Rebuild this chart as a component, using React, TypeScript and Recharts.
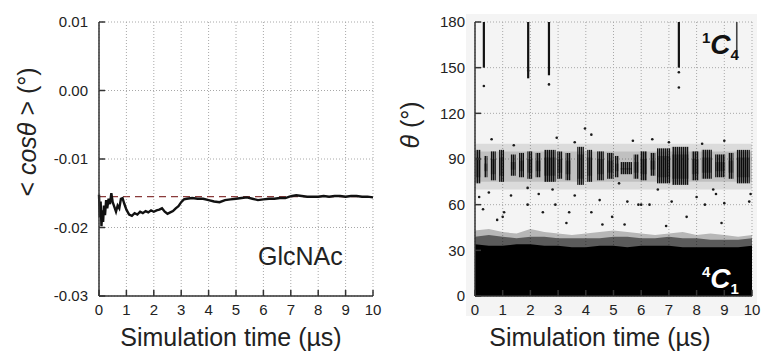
import React from 'react';
import {
  ComposedChart,
  Line,
  Area,
  Scatter,
  XAxis,
  YAxis,
  CartesianGrid,
  ReferenceLine,
  ReferenceArea,
} from 'recharts';

const FONT = '"Liberation Sans", Arial, sans-serif';
const AXIS = '#333';
const GRID = '#a8a8a8';

// shared x ticks (µs)
const timeTicks = [0, 1, 2, 3, 4, 5, 6, 7, 8, 9, 10];

// left panel: running average of cos(theta)
const cosTicks = [-0.03, -0.02, -0.01, 0, 0.01];
const cosTickLabels = ['-0.03', '-0.02', '-0.01', '0.00', '0.01'];
const cosLimit = -0.0155;
const cosSeries = [
  [0, -0.0152], [0.03, -0.0185], [0.06, -0.0162], [0.09, -0.0198], [0.12, -0.0175],
  [0.15, -0.0192], [0.18, -0.0168], [0.22, -0.0182], [0.26, -0.016], [0.3, -0.0172],
  [0.35, -0.0158], [0.4, -0.0166], [0.45, -0.015], [0.5, -0.0163], [0.56, -0.017],
  [0.62, -0.0177], [0.68, -0.0168], [0.74, -0.0172], [0.8, -0.0158], [0.86, -0.0157],
  [0.92, -0.0165], [1.0, -0.0174], [1.1, -0.0181], [1.2, -0.0183], [1.3, -0.0179],
  [1.4, -0.0181], [1.5, -0.0177], [1.6, -0.0179], [1.7, -0.0176], [1.8, -0.0178],
  [1.9, -0.0175], [2.0, -0.0177], [2.1, -0.0175], [2.2, -0.0174], [2.3, -0.0172],
  [2.4, -0.0177], [2.5, -0.018], [2.6, -0.0178], [2.7, -0.0176], [2.8, -0.0172],
  [2.9, -0.0169], [3.0, -0.0163], [3.1, -0.0159], [3.2, -0.0158], [3.4, -0.0157],
  [3.6, -0.0158], [3.8, -0.0158], [4.0, -0.016], [4.2, -0.0162], [4.4, -0.0163],
  [4.6, -0.016], [4.8, -0.0159], [5.0, -0.0158], [5.2, -0.0157], [5.4, -0.0156],
  [5.6, -0.0158], [5.8, -0.016], [6.0, -0.0159], [6.2, -0.0158], [6.4, -0.0158],
  [6.6, -0.0157], [6.8, -0.0157], [6.95, -0.0155], [7.05, -0.0154], [7.2, -0.0153],
  [7.4, -0.0154], [7.6, -0.0155], [7.8, -0.0155], [8.0, -0.0155], [8.2, -0.0154],
  [8.4, -0.0155], [8.6, -0.0154], [8.8, -0.0154], [9.0, -0.0155], [9.2, -0.0154],
  [9.4, -0.0154], [9.6, -0.0155], [9.8, -0.0155], [10, -0.0156],
];

// right panel: ring puckering angle theta
const thetaTicks = [0, 30, 60, 90, 120, 150, 180];
// lower 4C1 population: [t, solid top, dense fringe top, sparse fringe top]
const chairBand = [
  [0, 34, 39, 43], [0.5, 33, 40, 44], [1, 33, 39, 42], [1.5, 34, 38, 41],
  [2, 34, 39, 44], [2.5, 33, 39, 42], [3, 33, 38, 41], [3.5, 32, 38, 40],
  [4, 32, 38, 41], [4.5, 33, 38, 42], [5, 33, 39, 43], [5.5, 32, 39, 42],
  [6, 33, 38, 41], [6.5, 33, 38, 40], [7, 33, 39, 41], [7.5, 32, 38, 42],
  [8, 32, 38, 40], [8.5, 32, 37, 41], [9, 32, 37, 40], [9.5, 32, 37, 39],
  [10, 33, 38, 40],
];
// streaks of the ~90° population: [t start, t end, low, high]
const boatStreaks = [
  [0.02, 0.2, 74, 96], [0.33, 0.45, 78, 92], [0.57, 0.75, 76, 95], [0.87, 1.05, 75, 96],
  [1.29, 1.47, 79, 93], [1.59, 1.77, 78, 94], [1.89, 2.07, 77, 95], [2.19, 2.37, 78, 94],
  [2.49, 2.91, 75, 96], [2.97, 3.15, 77, 95], [3.27, 3.45, 76, 94], [3.69, 3.93, 73, 98],
  [4.05, 4.23, 75, 96], [4.41, 4.65, 76, 95], [4.77, 5.0, 77, 94], [5.05, 5.19, 78, 92],
  [5.25, 5.67, 80, 88], [5.73, 5.91, 77, 93], [5.97, 6.21, 76, 95], [6.33, 6.51, 79, 94],
  [6.57, 7.05, 74, 97], [7.11, 7.71, 73, 98], [7.83, 8.07, 76, 95], [8.19, 8.55, 77, 96],
  [8.67, 9.03, 78, 93], [9.15, 9.33, 77, 94], [9.45, 9.92, 74, 96],
];
// excursions to 1C4: [t, lowest theta]
const invertedSpikes = [
  [0.32, 150], [1.92, 143], [2.67, 145], [7.36, 150], [9.45, 156],
];
// isolated frames
const strayPoints = [
  [0.32, 138], [2.67, 139], [7.36, 137], [7.36, 147], [1.92, 148],
  [0.6, 103], [2.95, 104], [3.97, 110], [4.2, 106], [5.7, 102], [6.4, 103], [9.0, 102],
  [3.6, 101], [8.2, 100], [7.0, 101], [1.4, 99],
  [0.29, 57], [1.0, 52], [1.05, 55], [1.9, 60], [2.45, 55], [3.4, 55], [4.2, 55],
  [4.95, 52], [6.0, 60], [7.64, 52], [0.15, 65], [0.5, 68], [1.3, 66], [2.3, 67],
  [2.9, 60], [3.6, 66], [4.5, 63], [5.5, 62], [5.9, 60], [6.3, 60], [7.1, 62],
  [8.0, 65], [8.3, 60], [8.7, 67], [9.0, 61], [9.9, 62], [9.95, 67], [1.9, 71],
  [2.8, 70], [5.2, 74], [6.6, 70], [8.6, 70], [3.3, 48], [5.4, 47], [6.9, 46],
  [8.9, 48], [0.8, 50], [4.6, 47],
];

const cosData = cosSeries.map(([t, v]) => ({ t, v }));
const bandData = chairBand.map(([t, solid, dense, sparse]) => ({ t, solid, dense, sparse }));
const strayData = strayPoints.map(([t, th]) => ({ t, th }));

const tickStyle = { fontSize: 15, fill: '#222', fontFamily: FONT };

const Dot = (props: any) => <circle cx={props.cx} cy={props.cy} r={1.3} fill="#1a1a1a" />;

function CosPanel() {
  return (
    <ComposedChart width={384} height={356} data={cosData} margin={{ top: 22, right: 11, bottom: 0, left: 0 }}>
      <CartesianGrid stroke={GRID} strokeDasharray="1 2" />
      <XAxis
        dataKey="t"
        type="number"
        domain={[0, 10]}
        ticks={timeTicks}
        height={60}
        tick={tickStyle}
        tickSize={-6}
        tickMargin={14}
        stroke={AXIS}
        strokeWidth={1.5}
        interval={0}
      />
      <XAxis xAxisId="top" orientation="top" type="number" domain={[0, 10]} ticks={timeTicks}
        height={0} tickSize={-5} tickFormatter={() => ''} stroke={AXIS} strokeWidth={1.5} />
      <YAxis
        type="number"
        domain={[-0.03, 0.01]}
        ticks={cosTicks}
        width={99}
        tick={tickStyle}
        tickFormatter={(v) => cosTickLabels[cosTicks.indexOf(v)] ?? ''}
        tickSize={-6}
        tickMargin={17}
        stroke={AXIS}
        strokeWidth={1.5}
        interval={0}
      />
      <YAxis yAxisId="right" orientation="right" type="number" domain={[-0.03, 0.01]} ticks={cosTicks}
        width={0} tickSize={-5} tickFormatter={() => ''} stroke={AXIS} strokeWidth={1.5} />
      <ReferenceLine y={cosLimit} stroke="#8a3b3b" strokeDasharray="7 5" strokeWidth={1.3} />
      <Line type="linear" dataKey="v" stroke="#111" strokeWidth={2.4} dot={false} isAnimationActive={false} />
    </ComposedChart>
  );
}

function ThetaPanel() {
  return (
    <ComposedChart width={384} height={356} margin={{ top: 22, right: 17, bottom: 0, left: 0 }}>
      <defs>
        <pattern id="streaks" width={2} height={3} patternUnits="userSpaceOnUse">
          <rect x={0} y={0} width={2} height={3} fill="#000" fillOpacity={0.4} />
          <rect x={0} y={0} width={1.1} height={3} fill="#000" fillOpacity={0.85} />
        </pattern>
      </defs>
      <CartesianGrid stroke={GRID} strokeDasharray="1 2" />
      <XAxis
        dataKey="t"
        type="number"
        domain={[0, 10]}
        ticks={timeTicks}
        height={60}
        tick={tickStyle}
        tickSize={-6}
        tickMargin={14}
        stroke={AXIS}
        strokeWidth={1.5}
        interval={0}
        allowDataOverflow
      />
      <XAxis xAxisId="top" orientation="top" type="number" domain={[0, 10]} ticks={timeTicks}
        height={0} tickSize={-5} tickFormatter={() => ''} stroke={AXIS} strokeWidth={1.5} />
      <YAxis
        type="number"
        domain={[0, 180]}
        ticks={thetaTicks}
        width={90}
        tick={tickStyle}
        tickSize={-6}
        tickMargin={16}
        stroke={AXIS}
        strokeWidth={1.5}
        interval={0}
        allowDataOverflow
      />
      <YAxis yAxisId="right" orientation="right" type="number" domain={[0, 180]} ticks={thetaTicks}
        width={0} tickSize={-5} tickFormatter={() => ''} stroke={AXIS} strokeWidth={1.5} />
      <ReferenceArea x1={0} x2={10} y1={70} y2={100} fill="#000" fillOpacity={0.1} stroke="none" />
      <ReferenceArea x1={0} x2={10} y1={75} y2={95} fill="#000" fillOpacity={0.12} stroke="none" />
      {boatStreaks.map(([a, b, lo, hi], i) => (
        <ReferenceArea key={i} x1={a} x2={b} y1={lo} y2={hi} fill="url(#streaks)" fillOpacity={1} stroke="none" />
      ))}
      {boatStreaks.map(([a, b, lo, hi], i) => (
        <ReferenceArea key={'c' + i} x1={a} x2={b} y1={lo + 4} y2={hi - 5} fill="#000" fillOpacity={0.3} stroke="none" />
      ))}
      <Area data={bandData} dataKey="sparse" type="linear" stroke="none" fill="#000" fillOpacity={0.25} isAnimationActive={false} />
      <Area data={bandData} dataKey="dense" type="linear" stroke="none" fill="#000" fillOpacity={0.5} isAnimationActive={false} />
      <Area data={bandData} dataKey="solid" type="linear" stroke="none" fill="#000" fillOpacity={1} isAnimationActive={false} />
      {invertedSpikes.map(([t, lo], i) => (
        <Line
          key={'s' + i}
          data={[{ t, th: lo }, { t, th: 180 }]}
          dataKey="th"
          type="linear"
          stroke={t > 9 ? '#444' : '#111'}
          strokeWidth={t > 9 ? 1.6 : 2.2}
          dot={false}
          isAnimationActive={false}
        />
      ))}
      <Scatter data={strayData} dataKey="th" shape={Dot} isAnimationActive={false} />
    </ComposedChart>
  );
}

export default function App() {
  return (
    <div style={{ position: 'absolute', left: 0, top: 0, width: 769, height: 356, background: '#fff', fontFamily: FONT }}>
      <div style={{ position: 'absolute', left: 466, top: 14, width: 291, height: 302, background: '#f4f4f4' }} />
      <div style={{ position: 'absolute', left: 0, top: 0 }}>
        <CosPanel />
      </div>
      <div style={{ position: 'absolute', left: 385, top: 0 }}>
        <ThetaPanel />
      </div>
      <svg width={769} height={356} style={{ position: 'absolute', left: 0, top: 0, pointerEvents: 'none' }} fontFamily={FONT}>
        <text x={231} y={346} fontSize={25} textAnchor="middle" fill="#222">Simulation time (µs)</text>
        <text x={600} y={346} fontSize={25} textAnchor="middle" fill="#222">Simulation time (µs)</text>
        <text x={27} y={132} fontSize={25} textAnchor="middle" dominantBaseline="central" fill="#222" transform="rotate(-90 27 132)">
          {'< '}<tspan fontStyle="italic">cosθ</tspan>{' > (°)'}
        </text>
        <text x={410} y={125} fontSize={25} textAnchor="middle" dominantBaseline="central" fill="#222" transform="rotate(-90 410 125)">
          <tspan fontStyle="italic">θ</tspan>{' (°)'}
        </text>
        <text x={258} y={265} fontSize={25} fill="#222">GlcNAc</text>
        <text x={702} y={54} fill="#111" fontWeight="bold">
          <tspan fontSize={15} dy={-11}>1</tspan>
          <tspan fontSize={28} fontStyle="italic" dy={11}>C</tspan>
          <tspan fontSize={15} dy={6}>4</tspan>
        </text>
        <text x={702} y={288} fill="#fff" fontWeight="bold">
          <tspan fontSize={15} dy={-11}>4</tspan>
          <tspan fontSize={28} fontStyle="italic" dy={11}>C</tspan>
          <tspan fontSize={15} dy={6}>1</tspan>
        </text>
      </svg>
    </div>
  );
}
